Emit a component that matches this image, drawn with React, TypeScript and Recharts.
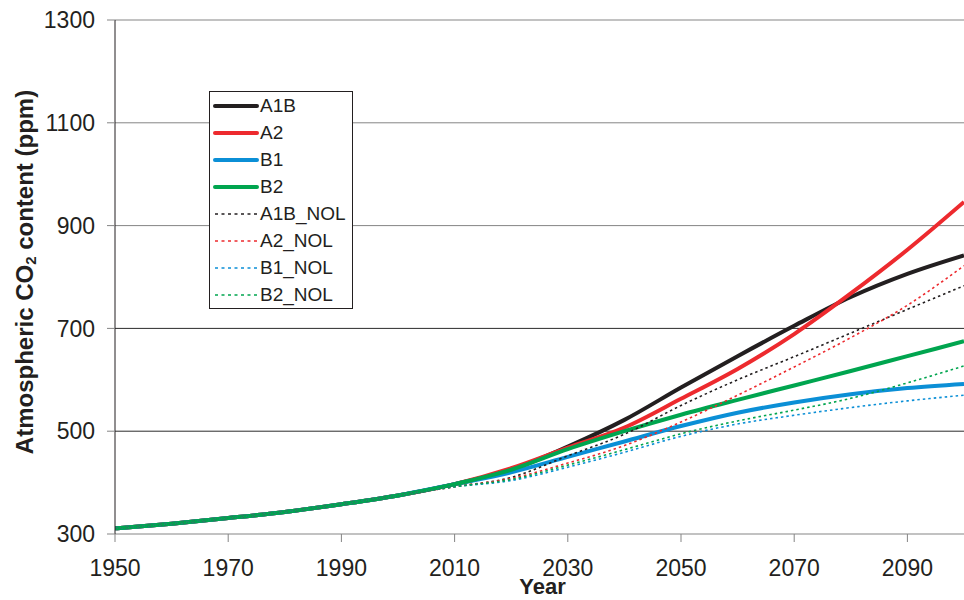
import React from 'react';
import { LineChart, Line, XAxis, YAxis, ReferenceLine } from 'recharts';

const years = [1950, 1960, 1970, 1980, 1990, 2000, 2010, 2020, 2030, 2040, 2050, 2060, 2070, 2080, 2090, 2100];

const a1b = [311, 320, 331, 343, 358, 375, 397, 425, 470, 522, 585, 646, 705, 761, 806, 842];
const a2 = [311, 320, 331, 343, 358, 375, 397, 428, 468, 507, 563, 621, 689, 768, 853, 946];
const b1 = [311, 320, 331, 343, 358, 375, 397, 420, 450, 480, 510, 536, 556, 572, 584, 592];
const b2 = [311, 320, 331, 343, 358, 375, 397, 425, 465, 500, 532, 561, 589, 617, 646, 675];
const a1bNol = [311, 320, 331, 343, 358, 375, 392, 410, 452, 494, 550, 600, 645, 691, 737, 783];
const a2Nol = [311, 320, 331, 343, 358, 375, 392, 408, 438, 472, 518, 570, 625, 682, 745, 822];
const b1Nol = [311, 320, 331, 343, 358, 375, 392, 404, 430, 459, 490, 514, 531, 546, 559, 570];
const b2Nol = [311, 320, 331, 343, 358, 375, 392, 406, 434, 464, 495, 520, 541, 564, 594, 627];

const xTicks = [1950, 1970, 1990, 2010, 2030, 2050, 2070, 2090];
const yTicks = [300, 500, 700, 900, 1100, 1300];

const series = [
    { key: 'A1B', values: a1b, color: '#231f20', dotted: false },
    { key: 'A2', values: a2, color: '#ed2a2e', dotted: false },
    { key: 'B1', values: b1, color: '#0b8fd6', dotted: false },
    { key: 'B2', values: b2, color: '#00a54f', dotted: false },
    { key: 'A1B_NOL', values: a1bNol, color: '#231f20', dotted: true },
    { key: 'A2_NOL', values: a2Nol, color: '#ed2a2e', dotted: true },
    { key: 'B1_NOL', values: b1Nol, color: '#0b8fd6', dotted: true },
    { key: 'B2_NOL', values: b2Nol, color: '#00a54f', dotted: true },
];

const data = years.map((year, i) => {
    const row: Record<string, number> = { year };
    series.forEach(s => { row[s.key] = s.values[i]; });
    return row;
});

const FONT = '"Liberation Sans", Arial, sans-serif';
const INK = '#231f20';
const GRAY = '#858585';

// gridlines: upper ones look lighter than the lower ones in the original
const gridColor: Record<number, string> = { 500: '#2b2b2b', 700: '#2b2b2b', 900: GRAY, 1100: GRAY, 1300: GRAY };

const YTitle = (props: any) => {
    const vb = props.viewBox || { x: 0, y: 0, width: 0, height: 0 };
    const cx = 24;
    const cy = vb.y + vb.height / 2 - 5;
    return (
        <text
            transform={`rotate(-90, ${cx}, ${cy})`}
            x={cx}
            y={cy}
            textAnchor="middle"
            dominantBaseline="central"
            fontFamily={FONT}
            fontWeight="bold"
            fontSize={24}
            fill={INK}
        >
            Atmospheric CO
            <tspan fontSize={15} dy={6}>2</tspan>
            <tspan dy={-6}> content (ppm)</tspan>
        </text>
    );
};

const XTitle = (props: any) => {
    const vb = props.viewBox || { x: 0, y: 0, width: 0, height: 0 };
    return (
        <text
            x={vb.x + vb.width / 2 + 3}
            y={vb.y + 60}
            textAnchor="middle"
            fontFamily={FONT}
            fontWeight="bold"
            fontSize={22}
            fill={INK}
        >
            Year
        </text>
    );
};

const LegendBox = () => (
    <div
        style={{
            position: 'absolute',
            left: 209,
            top: 91,
            width: 142,
            height: 216,
            border: `1px solid ${INK}`,
            background: '#fff',
            fontFamily: FONT,
            fontSize: 19,
            color: INK,
        }}
    >
        {series.map(s => (
            <div key={s.key} style={{ height: 27, display: 'flex', alignItems: 'center' }}>
                <svg width={48} height={10} style={{ marginLeft: 2 }}>
                    <line
                        x1={3}
                        x2={45}
                        y1={5}
                        y2={5}
                        stroke={s.color}
                        strokeWidth={s.dotted ? 1.6 : 4}
                        strokeLinecap={s.dotted ? 'butt' : 'round'}
                        strokeDasharray={s.dotted ? '3 3.5' : undefined}
                    />
                </svg>
                <span style={{ lineHeight: '27px' }}>{s.key}</span>
            </div>
        ))}
    </div>
);

export default function App() {
    return (
        <div style={{ position: 'absolute', left: 0, top: 0, width: 964, height: 600 }}>
            <LineChart width={964} height={600} data={data} margin={{ top: 20, right: 0, left: 0, bottom: 6 }}>
                {yTicks.slice(1).map(v => (
                    <ReferenceLine key={v} y={v} stroke={gridColor[v]} strokeWidth={1} />
                ))}
                <XAxis
                    dataKey="year"
                    type="number"
                    domain={[1950, 2100]}
                    ticks={xTicks}
                    height={60}
                    tickSize={8}
                    tickMargin={18}
                    axisLine={{ stroke: GRAY }}
                    tickLine={{ stroke: GRAY }}
                    tick={{ fill: INK, fontSize: 23, fontFamily: FONT }}
                    allowDataOverflow
                    label={(p: any) => <XTitle {...p} />}
                />
                <YAxis
                    type="number"
                    domain={[300, 1300]}
                    ticks={yTicks}
                    width={115}
                    tickSize={8}
                    tickMargin={12}
                    axisLine={{ stroke: INK }}
                    tickLine={{ stroke: GRAY }}
                    tick={{ fill: INK, fontSize: 23, fontFamily: FONT }}
                    label={(p: any) => <YTitle {...p} />}
                />
                {series.map(s => (
                    <Line
                        key={s.key}
                        type="monotone"
                        dataKey={s.key}
                        stroke={s.color}
                        strokeWidth={s.dotted ? 1.6 : 4}
                        strokeDasharray={s.dotted ? '2.5 3' : undefined}
                        dot={false}
                        activeDot={false}
                        isAnimationActive={false}
                    />
                ))}
            </LineChart>
            <LegendBox />
        </div>
    );
}
